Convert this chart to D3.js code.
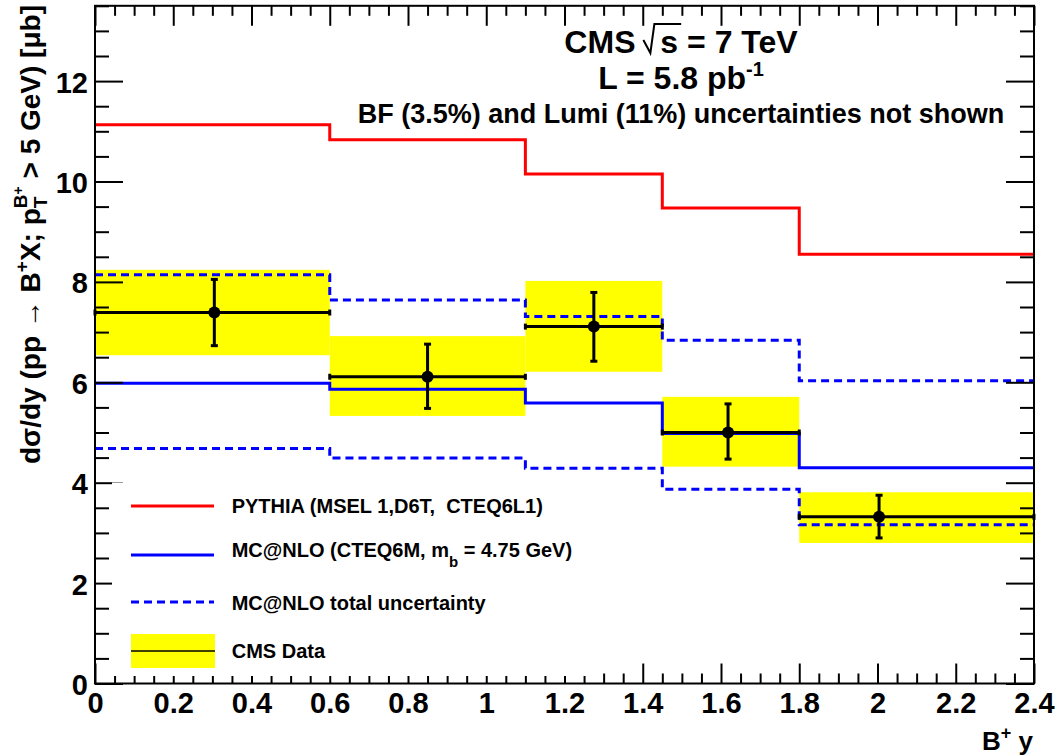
<!DOCTYPE html>
<html>
<head>
<meta charset="utf-8">
<script src="https://cdn.jsdelivr.net/npm/d3@7"></script>
<style>
  body { margin: 0; background: #fff; }
  svg { display: block; font-family: "Liberation Sans", Arial, Helvetica, sans-serif; font-weight: bold; }
  text { white-space: pre; }
</style>
</head>
<body>
<script>
// ---- data ----
const binEdges   = [0, 0.6, 1.1, 1.45, 1.8, 2.4];
const pythia     = [11.13, 10.83, 10.15, 9.47, 8.55];
const mcnlo      = [5.98, 5.86, 5.59, 4.98, 4.30];
const mcnloUp    = [8.14, 7.64, 7.31, 6.84, 6.03];
const mcnloDown  = [4.68, 4.49, 4.29, 3.87, 3.16];
const dataX      = [0.305, 0.850, 1.275, 1.618, 2.004];
const dataY      = [7.39, 6.11, 7.11, 5.00, 3.32];
const statHi     = [8.05, 6.76, 7.79, 5.57, 3.75];
const statLo     = [6.73, 5.48, 6.42, 4.47, 2.90];
const totHi      = [8.24, 6.92, 8.02, 5.71, 3.81];
const totLo      = [6.54, 5.33, 6.21, 4.32, 2.80];
const xTicks     = [0, 0.2, 0.4, 0.6, 0.8, 1, 1.2, 1.4, 1.6, 1.8, 2, 2.2, 2.4];
const yTicks     = [0, 2, 4, 6, 8, 10, 12];
const xMinor     = d3.range(0, 49).map(i => +(i * 0.05).toFixed(2));
const yMinor     = d3.range(0, 28).map(i => i * 0.5);

const W = 1059, H = 755;
const L = 95, R = 1034, B = 683.5, T = 683.5 - 13.5 * 50.2;

const svg = d3.select("body").append("svg").attr("width", W).attr("height", H);
const x = d3.scaleLinear().domain([0, 2.4]).range([L, R]);
const y = d3.scaleLinear().domain([0, 13.5]).range([B, T]);

const RED = "#ff0000", BLUE = "#0000ff", YEL = "#ffff00";

// ---- yellow total-uncertainty boxes ----
svg.append("g").selectAll("rect").data(d3.range(5)).join("rect")
  .attr("x", i => x(binEdges[i])).attr("width", i => x(binEdges[i + 1]) - x(binEdges[i]))
  .attr("y", i => y(totHi[i])).attr("height", i => y(totLo[i]) - y(totHi[i]))
  .attr("fill", YEL);

// ---- step histograms ----
const step = d3.line().x(d => x(d[0])).y(d => y(d[1])).curve(d3.curveStepAfter);
const pts = vals => binEdges.map((e, i) => [e, vals[Math.min(i, vals.length - 1)]]);
function hist(vals, color, dash) {
  svg.append("path").attr("d", step(pts(vals))).attr("fill", "none")
    .attr("stroke", color).attr("stroke-width", 3)
    .attr("stroke-dasharray", dash || null);
}
hist(pythia, RED);
hist(mcnloUp, BLUE, "8,5");
hist(mcnloDown, BLUE, "8,5");
hist(mcnlo, BLUE);

// ---- data points ----
const gd = svg.append("g").attr("stroke", "#000").attr("stroke-width", 3);
d3.range(5).forEach(i => {
  const x0 = x(binEdges[i]), x1 = x(binEdges[i + 1]), yc = y(dataY[i]), xc = x(dataX[i]);
  gd.append("line").attr("x1", x0).attr("x2", x1).attr("y1", yc).attr("y2", yc);
  gd.append("line").attr("x1", x0).attr("x2", x0).attr("y1", yc - 3).attr("y2", yc + 3);
  gd.append("line").attr("x1", x1).attr("x2", x1).attr("y1", yc - 3).attr("y2", yc + 3);
  gd.append("line").attr("x1", xc).attr("x2", xc).attr("y1", y(statHi[i])).attr("y2", y(statLo[i]));
  gd.append("line").attr("x1", xc - 3.5).attr("x2", xc + 3.5).attr("y1", y(statHi[i])).attr("y2", y(statHi[i]));
  gd.append("line").attr("x1", xc - 3.5).attr("x2", xc + 3.5).attr("y1", y(statLo[i])).attr("y2", y(statLo[i]));
  svg.append("circle").attr("cx", xc).attr("cy", yc).attr("r", 6).attr("fill", "#000");
});

// ---- axes ----
function ax(gen, tx, ty, vals, size, fmt, pad) {
  const g = svg.append("g").attr("transform", `translate(${tx},${ty})`)
    .call(gen.tickValues(vals).tickSizeInner(size).tickSizeOuter(0).tickFormat(fmt).tickPadding(pad || 0));
  g.select(".domain").remove();
  g.selectAll(".tick line").attr("stroke", "#000").attr("stroke-width", 2);
  return g;
}
const fmt = d => String(+d.toFixed(1));
const none = () => "";
const xMin = xMinor.filter(v => !xTicks.some(t => Math.abs(t - v) < 1e-6));
const yMin = yMinor.filter(v => !yTicks.includes(v));

const gb = ax(d3.axisBottom(x), 0, B, xTicks, -20, fmt, 9);
gb.selectAll("text").style("font-size", "29px").attr("fill", "#000").attr("font-family", null);
ax(d3.axisBottom(x), 0, B, xMin, -10, none);
ax(d3.axisTop(x), 0, T, xTicks, -20, none);
ax(d3.axisTop(x), 0, T, xMin, -10, none);
const gl = ax(d3.axisLeft(y), L, 0, yTicks, -28, fmt, 7);
gl.selectAll("text").style("font-size", "29px").attr("fill", "#000").attr("dy", "0.38em").attr("font-family", null);
ax(d3.axisLeft(y), L, 0, yMin, -14, none);
ax(d3.axisRight(y), R, 0, yTicks, -28, none);
ax(d3.axisRight(y), R, 0, yMin, -14, none);
svg.selectAll("g[font-family]").attr("font-family", null).attr("font-size", null);

svg.append("rect").attr("x", L).attr("y", T).attr("width", R - L).attr("height", B - T)
  .attr("fill", "none").attr("stroke", "#000").attr("stroke-width", 2);

// ---- axis titles ----
const xt = svg.append("text").attr("x", 1033).attr("y", 750).attr("text-anchor", "end").style("font-size", "26px");
xt.append("tspan").text("B");
xt.append("tspan").attr("dy", -11).style("font-size", "18px").text("+");
xt.append("tspan").attr("dy", 11).text(" y");

const yt = svg.append("text").attr("transform", "translate(40,5) rotate(-90)")
  .attr("text-anchor", "end").style("font-size", "28px");
yt.append("tspan").text("dσ/dy (pp → B");
yt.append("tspan").attr("dy", -12).style("font-size", "19px").text("+");
yt.append("tspan").attr("dy", 12).text("X; p");
yt.append("tspan").attr("dy", 7).style("font-size", "19px").text("T");
yt.append("tspan").attr("dx", -11.6).attr("dy", -20).style("font-size", "19px").text("B");
yt.append("tspan").attr("dy", -4).style("font-size", "14px").text("+");
yt.append("tspan").attr("dy", 17).text(" > 5 GeV) [μb]");

// ---- header text ----
const t1 = svg.append("text").attr("x", 681).attr("y", 53).attr("text-anchor", "middle").style("font-size", "32px");
t1.append("tspan").text("CMS ");
t1.append("tspan").attr("dx", 16).text("s");
t1.append("tspan").text(" = 7 TeV");
{
  const n = t1.node();
  const sx0 = n.getStartPositionOfChar(4).x, sx1 = n.getEndPositionOfChar(4).x;
  svg.append("path").attr("fill", "none").attr("stroke", "#000").attr("stroke-width", 2)
    .attr("d", `M${sx0 - 17},${40} L${sx0 - 10},${53} L${sx0 - 6},${24} L${sx1 + 3},${24}`);
}
const t2 = svg.append("text").attr("x", 681).attr("y", 89).attr("text-anchor", "middle").style("font-size", "32px");
t2.append("tspan").text("L = 5.8 pb");
t2.append("tspan").attr("dy", -13).style("font-size", "20px").text("-1");
svg.append("text").attr("x", 681).attr("y", 123).attr("text-anchor", "middle").style("font-size", "27px")
  .text("BF (3.5%) and Lumi (11%) uncertainties not shown");

// ---- legend ----
svg.append("rect").attr("x", 112).attr("y", 482.5).attr("width", 488).attr("height", 193.5).attr("fill", "#fff");
const lg = svg.append("g");
const lx0 = 131, lx1 = 214, tx = 231.7;
lg.append("line").attr("x1", lx0).attr("x2", lx1).attr("y1", 506).attr("y2", 506).attr("stroke", RED).attr("stroke-width", 3);
lg.append("line").attr("x1", lx0).attr("x2", lx1).attr("y1", 555).attr("y2", 555).attr("stroke", BLUE).attr("stroke-width", 3);
lg.append("line").attr("x1", lx0).attr("x2", lx1).attr("y1", 602).attr("y2", 602).attr("stroke", BLUE).attr("stroke-width", 3).attr("stroke-dasharray", "8,5");
lg.append("rect").attr("x", lx0).attr("y", 634).attr("width", lx1 - lx0 + 1).attr("height", 34).attr("fill", YEL);
lg.append("line").attr("x1", lx0).attr("x2", lx1 + 1).attr("y1", 651).attr("y2", 651).attr("stroke", "#000").attr("stroke-width", 1.5);
lg.append("text").attr("x", tx).attr("y", 513.3).style("font-size", "20px").text("PYTHIA (MSEL 1,D6T,  CTEQ6L1)");
const l2 = lg.append("text").attr("x", tx).attr("y", 556.7).style("font-size", "20px");
l2.append("tspan").text("MC@NLO (CTEQ6M, m");
l2.append("tspan").attr("dy", 10).style("font-size", "15px").text("b");
l2.append("tspan").attr("dy", -10).text(" = 4.75 GeV)");
lg.append("text").attr("x", tx).attr("y", 610).style("font-size", "20px").text("MC@NLO total uncertainty");
lg.append("text").attr("x", tx).attr("y", 658.3).style("font-size", "20px").text("CMS Data");
</script>
</body>
</html>
